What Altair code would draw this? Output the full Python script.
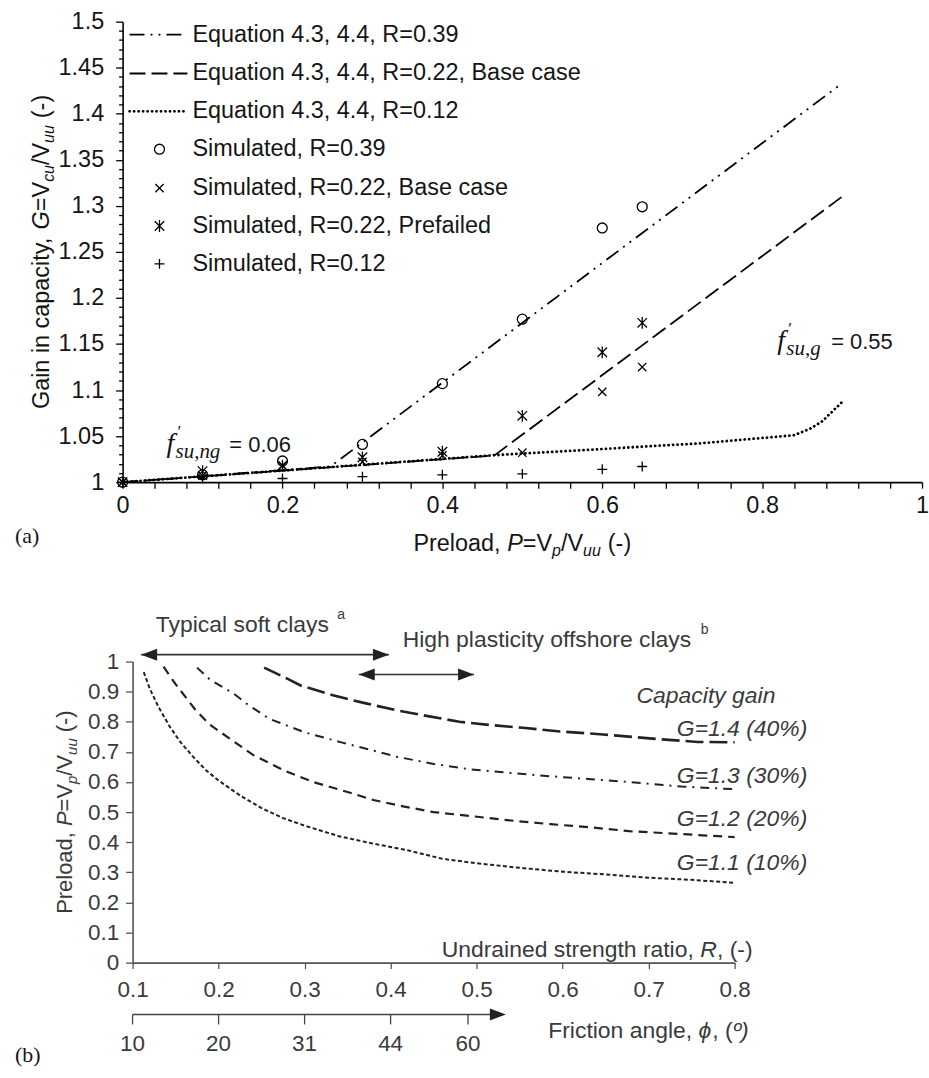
import altair as alt
import pandas as pd

SANS = "Liberation Sans"
SERIF = "Liberation Serif"
INK = "#151515"
INK_B = "#3a3a3a"

# ---------------- panel (a) data ----------------
P_sim = [0, 0.1, 0.2, 0.3, 0.4, 0.5, 0.6, 0.65]
G_sim_R039 = [1.0, 1.008, 1.023, 1.041, 1.107, 1.177, 1.276, 1.299]
G_sim_R022_base = [1.0, 1.007, 1.018, 1.022, 1.029, 1.032, 1.098, 1.125]
G_sim_R022_pref = [1.0, 1.012, 1.018, 1.027, 1.033, 1.072, 1.141, 1.173]
G_sim_R012 = [1.0, 1.004, 1.004, 1.006, 1.008, 1.009, 1.014, 1.017]

eq_R039_P = [0, 0.26, 0.9]
eq_R039_G = [1.0, 1.017, 1.433]
eq_R022_P = [0, 0.465, 0.9]
eq_R022_G = [1.0, 1.029, 1.310]
eq_R012_P = [0, 0.46, 0.6, 0.72, 0.8, 0.84, 0.86, 0.875, 0.9]
eq_R012_G = [1.0, 1.029, 1.036, 1.042, 1.048, 1.051, 1.058, 1.066, 1.087]

legend_labels = [
    "Equation 4.3, 4.4, R=0.39",
    "Equation 4.3, 4.4, R=0.22, Base case",
    "Equation 4.3, 4.4, R=0.12",
    "Simulated, R=0.39",
    "Simulated, R=0.22, Base case",
    "Simulated, R=0.22, Prefailed",
    "Simulated, R=0.12",
]
f_ng_P, f_ng_G = 0.055, 1.0325
f_g_P, f_g_G = 0.819, 1.145

# ---------------- panel (b) data ----------------
G11_R = [0.113, 0.12, 0.13, 0.143, 0.155, 0.17, 0.185, 0.2, 0.225, 0.25, 0.275, 0.3, 0.34, 0.38, 0.42, 0.46, 0.5, 0.55, 0.6, 0.65, 0.7, 0.75, 0.8]
G11_P = [0.965, 0.91, 0.85, 0.785, 0.735, 0.685, 0.64, 0.605, 0.555, 0.513, 0.48, 0.455, 0.42, 0.395, 0.373, 0.345, 0.33, 0.315, 0.302, 0.293, 0.282, 0.275, 0.265]
G12_R = [0.136, 0.15, 0.173, 0.19, 0.21, 0.24, 0.277, 0.31, 0.351, 0.38, 0.413, 0.45, 0.493, 0.54, 0.586, 0.63, 0.677, 0.738, 0.8]
G12_P = [0.983, 0.925, 0.84, 0.79, 0.75, 0.69, 0.637, 0.6, 0.566, 0.54, 0.52, 0.5, 0.487, 0.472, 0.46, 0.45, 0.437, 0.427, 0.417]
G13_R = [0.175, 0.19, 0.216, 0.235, 0.259, 0.3, 0.345, 0.407, 0.45, 0.493, 0.54, 0.586, 0.63, 0.677, 0.738, 0.8]
G13_P = [0.98, 0.94, 0.897, 0.855, 0.81, 0.765, 0.73, 0.684, 0.66, 0.642, 0.63, 0.619, 0.61, 0.6, 0.585, 0.576]
G14_R = [0.253, 0.275, 0.296, 0.333, 0.37, 0.407, 0.445, 0.48, 0.517, 0.554, 0.597, 0.647, 0.709, 0.757, 0.8]
G14_P = [0.98, 0.95, 0.92, 0.888, 0.862, 0.838, 0.818, 0.8, 0.789, 0.78, 0.768, 0.758, 0.743, 0.733, 0.732]
gain_labels = ["G=1.1 (10%)", "G=1.2 (20%)", "G=1.3 (30%)", "G=1.4 (40%)"]

soft_clay_R = [0.11, 0.398]
soft_clay_P = 1.023
offshore_R = [0.363, 0.497]
offshore_P = 0.957
friction_labels = ["10", "20", "31", "44", "60"]
friction_R = [0.1, 0.2, 0.3, 0.4, 0.49]
friction_arrow_R = [0.1, 0.534]

# ---------------- helpers ----------------
CW = {' ': .278, ',': .278, '.': .278, '(': .333, ')': .333, '-': .333, '/': .278,
      '=': .584, '%': .889, '\u2032': .25, '\u00ba': .365, '\u03d5': .6,
      'c': .5, 'f': .278, 'i': .222, 'j': .222, 'k': .5, 'l': .222, 'm': .833,
      'r': .333, 's': .5, 't': .278, 'v': .5, 'w': .722, 'x': .5, 'y': .5, 'z': .5,
      'G': .778, 'P': .667, 'V': .667, 'R': .722, 'U': .722, 'F': .611, 'T': .611,
      'H': .722, 'C': .722, 'E': .667}


def tw(s, size):
    return sum(CW.get(c, .556) for c in s) * size


def piece(t, size, style="normal", dy=0, font=SANS, adv=None, dx=0):
    return dict(t=t, size=size, style=style, dy=dy, font=font, adv=adv, dx=dx)


def rich(pieces, enc, data=None, align="left", angle=0, color=INK):
    advs = [(p["adv"] if p["adv"] is not None else tw(p["t"], p["size"])) + (p["dx"] if p["adv"] is None else 0)
            for p in pieces]
    total = sum(advs)
    off = {"left": 0, "center": -total / 2, "right": -total}[align]
    layers = []
    for p, a in zip(pieces, advs):
        row = dict(data or {})
        row["t"] = p["t"]
        layers.append(
            alt.Chart(pd.DataFrame([row])).mark_text(
                align="left", baseline="alphabetic", angle=angle,
                dx=off + p["dx"], dy=p["dy"], font=p["font"], fontSize=p["size"],
                fontStyle=p["style"], color=color,
            ).encode(text="t:N", **enc)
        )
        off += a
    return layers


# ---------------- panel (a) ----------------
SX_A = alt.Scale(domain=[0, 1], nice=False, zero=False)
SY_A = alt.Scale(domain=[1.0, 1.5], nice=False, zero=False)
MAJ_X = "abs(datum.value*5 - round(datum.value*5)) < 0.01"
MAJ_Y = "abs(datum.value*20 - round(datum.value*20)) < 0.01"

AX_XA = alt.Axis(
    values=[round(0.04 * i, 2) for i in range(26)],
    labelExpr=f"{MAJ_X} ? format(datum.value, '.1~f') : ''",
    tickSize=6, tickWidth=1.3, tickColor="black", domainColor="black", domainWidth=1.6,
    labelColor=INK, labelFont=SANS, labelFontSize=23.5, labelPadding=5,
    labelOverlap=False, labelFlush=False, labelBound=False, grid=False, title=None,
)
AX_YA = alt.Axis(
    values=[round(1 + 0.01 * i, 2) for i in range(51)],
    labelExpr=f"{MAJ_Y} ? format(datum.value, '.2~f') : ''",
    tickSize={"condition": {"test": MAJ_Y, "value": 7}, "value": 4},
    tickWidth=1.3, tickColor="black", domainColor="black", domainWidth=1.6,
    labelColor=INK, labelFont=SANS, labelFontSize=23.5, labelPadding=12,
    labelOverlap=False, labelFlush=False, labelBound=False, grid=False, title=None,
)


def XA():
    return alt.X("P:Q", scale=SX_A, axis=AX_XA)


def YA():
    return alt.Y("G:Q", scale=SY_A, axis=AX_YA)


def line_a(Ps, Gs, dash, width, cap="butt"):
    df = pd.DataFrame({"P": Ps, "G": Gs})
    return alt.Chart(df).mark_line(
        color="black", strokeDash=dash, strokeWidth=width, strokeCap=cap
    ).encode(x=XA(), y=YA())


SH_CIRCLE = "circle"
SH_CROSS = "M-1,-1L1,1M-1,1L1,-1"
SH_STAR = "M-1,-1L1,1M-1,1L1,-1M0,-1.25L0,1.25"
SH_PLUS = "M-1,0L1,0M0,-1L0,1"


def pts_a(Gs, shape, size):
    df = pd.DataFrame({"P": P_sim, "G": Gs})
    return alt.Chart(df).mark_point(
        shape=shape, size=size, filled=False, color="black", strokeWidth=1.3, opacity=1
    ).encode(x=XA(), y=YA())


DASH_39 = [15, 6, 2, 6, 2, 6]
DASH_22 = [16, 6]
DASH_12 = [0.1, 4.4]

layers_a = [
    line_a(eq_R012_P, eq_R012_G, DASH_12, 2.8, "round"),
    line_a(eq_R022_P, eq_R022_G, DASH_22, 1.8),
    line_a(eq_R039_P, eq_R039_G, DASH_39, 1.8),
    pts_a(G_sim_R039, SH_CIRCLE, 100),
    pts_a(G_sim_R022_base, SH_CROSS, 70),
    pts_a(G_sim_R022_pref, SH_STAR, 90),
    pts_a(G_sim_R012, SH_PLUS, 100),
]

# legend
LEG_Y = [13, 52, 90, 128, 167, 205, 243]
leg_styles = [
    ("line", DASH_39, 1.8, "butt"), ("line", DASH_22, 1.8, "butt"), ("line", DASH_12, 2.8, "round"),
    ("pt", SH_CIRCLE, 100), ("pt", SH_CROSS, 70), ("pt", SH_STAR, 90), ("pt", SH_PLUS, 100),
]
one = pd.DataFrame({"k": [0]})
for lab, yy, st in zip(legend_labels, LEG_Y, leg_styles):
    if st[0] == "line":
        layers_a.append(alt.Chart(one).mark_rule(
            color="black", strokeDash=st[1], strokeWidth=st[2], strokeCap=st[3]
        ).encode(x=alt.value(7), x2=alt.value(65), y=alt.value(yy)))
    else:
        layers_a.append(alt.Chart(one).mark_point(
            shape=st[1], size=st[2], filled=False, color="black", strokeWidth=1.3, opacity=1
        ).encode(x=alt.value(37), y=alt.value(yy)))
    layers_a.append(alt.Chart(pd.DataFrame({"t": [lab]})).mark_text(
        align="left", baseline="middle", font=SANS, fontSize=23.5, color=INK
    ).encode(x=alt.value(70), y=alt.value(yy), text="t:N"))

# annotations f'su
enc_a = {"x": XA(), "y": YA()}
layers_a += rich([
    piece("f", 28, "italic", font=SERIF, adv=9),
    piece("\u2032", 17, "normal", dy=-15, font=SERIF, adv=0, dx=2),
    piece("su,ng", 21, "italic", dy=6, font=SERIF, adv=54),
    piece("= 0.06", 22),
], enc_a, data={"P": f_ng_P, "G": f_ng_G})
layers_a += rich([
    piece("f", 28, "italic", font=SERIF, adv=9),
    piece("\u2032", 17, "normal", dy=-15, font=SERIF, adv=0, dx=2),
    piece("su,g", 21, "italic", dy=6, font=SERIF, adv=45),
    piece("= 0.55", 22),
], enc_a, data={"P": f_g_P, "G": f_g_G})

# axis titles (a)
layers_a += rich([
    piece("Gain in capacity, ", 23.5), piece("G", 23.5, "italic"), piece("=V", 23.5),
    piece("cu", 16, "italic", dy=5), piece("/V", 23.5), piece("uu", 16, "italic", dy=5),
    piece("(-)", 23.5, dx=7),
], {"x": alt.value(-74), "y": alt.value(231)}, align="center", angle=270)
layers_a += rich([
    piece("Preload, ", 23.5), piece("P", 23.5, "italic"), piece("=V", 23.5),
    piece("p", 16, "italic", dy=5), piece("/V", 23.5), piece("uu", 16, "italic", dy=5),
    piece("(-)", 23.5, dx=7),
], {"x": alt.value(401), "y": alt.value(531)}, align="center")
layers_a += rich([piece("(a)", 22, font=SERIF)],
                 {"x": alt.value(-108), "y": alt.value(523)})

top = alt.layer(*layers_a).properties(width=802, height=462)

# ---------------- panel (b) ----------------
SX_B = alt.Scale(domain=[0.1, 0.8], nice=False, zero=False)
SY_B = alt.Scale(domain=[0, 1], nice=False, zero=True)
AX_XB = alt.Axis(
    values=[round(0.1 * i, 1) for i in range(1, 9)], format=".1f",
    tickSize=6, tickWidth=1.3, tickColor="#555", domainColor="#555", domainWidth=1.6,
    labelColor=INK_B, labelFont=SANS, labelFontSize=22.5, labelPadding=10,
    labelOverlap=False, labelFlush=False, labelBound=False, grid=False, title=None,
)
AX_YB = alt.Axis(
    values=[round(0.1 * i, 1) for i in range(11)],
    labelExpr="format(datum.value, '.1~f')",
    tickSize=7, tickWidth=1.3, tickColor="#555", domainColor="#555", domainWidth=1.6,
    labelColor=INK_B, labelFont=SANS, labelFontSize=22.5, labelPadding=7,
    labelOverlap=False, labelFlush=False, labelBound=False, grid=False, title=None,
)


def XB(f="R"):
    return alt.X(f"{f}:Q", scale=SX_B, axis=AX_XB)


def YB():
    return alt.Y("Pb:Q", scale=SY_B, axis=AX_YB)


def line_b(Rs, Ps, dash, width):
    df = pd.DataFrame({"R": Rs, "Pb": Ps})
    return alt.Chart(df).mark_line(
        color="#222", strokeDash=dash, strokeWidth=width
    ).encode(x=XB(), y=YB())


curves_b = [(G11_R, G11_P), (G12_R, G12_P), (G13_R, G13_P), (G14_R, G14_P)]
dashes_b = [([4, 2.5], 2.0), ([9, 6], 2.2), ([9, 6, 2, 6], 2.0), ([18, 6], 2.6)]
label_dy = [-13, -11, -6, -6]

layers_b = []
for (Rs, Ps), (d, w) in zip(curves_b, dashes_b):
    layers_b.append(line_b(Rs, Ps, d, w))
for (Rs, Ps), lab, ddy in zip(curves_b, gain_labels, label_dy):
    layers_b.append(alt.Chart(pd.DataFrame({"R": [Rs[-1]], "Pb": [Ps[-1]], "t": [lab]})).mark_text(
        align="left", baseline="alphabetic", dx=-58, dy=ddy, font=SANS, fontSize=23,
        fontStyle="italic", color=INK_B
    ).encode(x=XB(), y=YB(), text="t:N"))

layers_b.append(alt.Chart(pd.DataFrame({"R": [0.686], "Pb": [0.864], "t": ["Capacity gain"]})).mark_text(
    align="left", baseline="alphabetic", font=SANS, fontSize=23, fontStyle="italic", color=INK_B
).encode(x=XB(), y=YB(), text="t:N"))

ARROW_R = "M0,0L-2,-0.75L-2,0.75Z"
ARROW_L = "M0,0L2,-0.75L2,0.75Z"


def double_arrow(Rs, Pv):
    df = pd.DataFrame({"R": [Rs[0]], "R2": [Rs[1]], "Pb": [Pv]})
    rule = alt.Chart(df).mark_rule(color="#333", strokeWidth=1.6).encode(
        x=XB(), x2="R2:Q", y=YB())
    heads = pd.DataFrame({"R": Rs, "Pb": [Pv, Pv]})
    hl = alt.Chart(heads.iloc[[0]]).mark_point(
        shape=ARROW_L, size=256, filled=True, color="#222", opacity=1, strokeWidth=0
    ).encode(x=XB(), y=YB())
    hr = alt.Chart(heads.iloc[[1]]).mark_point(
        shape=ARROW_R, size=256, filled=True, color="#222", opacity=1, strokeWidth=0
    ).encode(x=XB(), y=YB())
    return [rule, hl, hr]


layers_b += double_arrow(soft_clay_R, soft_clay_P)
layers_b += double_arrow(offshore_R, offshore_P)

enc_b = {"x": XB(), "y": YB()}
layers_b += rich([piece("Typical soft clays", 23), piece("a", 14, dy=-13, dx=7, adv=0)],
                 enc_b, data={"R": 0.127, "Pb": 1.099}, color=INK_B)
layers_b += rich([piece("High plasticity offshore clays", 23), piece("b", 14, dy=-13, dx=9, adv=0)],
                 enc_b, data={"R": 0.414, "Pb": 1.05}, color=INK_B)

# R axis caption inside plot
layers_b += rich([
    piece("Undrained strength ratio, ", 23), piece("R", 23, "italic"), piece(", (-)", 23),
], {"x": alt.value(622), "y": alt.value(296)}, align="right", color=INK_B)

# friction angle secondary scale
fr = pd.DataFrame({"R": [friction_arrow_R[0]], "R2": [friction_arrow_R[1] - 0.01]})
layers_b.append(alt.Chart(fr).mark_rule(color="#444", strokeWidth=1.4).encode(
    x=XB(), x2="R2:Q", y=alt.value(354)))
ft = pd.DataFrame({"R": friction_R, "t": friction_labels})
layers_b.append(alt.Chart(ft).mark_rule(color="#444", strokeWidth=1.3).encode(
    x=XB(), y=alt.value(354), y2=alt.value(364)))
layers_b.append(alt.Chart(ft).mark_text(
    baseline="middle", align="center", font=SANS, fontSize=22.5, color=INK_B
).encode(x=XB(), y=alt.value(384), text="t:N"))
layers_b.append(alt.Chart(pd.DataFrame({"R": [friction_arrow_R[1]]})).mark_point(
    shape=ARROW_R, size=256, filled=True, color="#222", opacity=1, strokeWidth=0
).encode(x=XB(), y=alt.value(354)))
layers_b += rich([
    piece("Friction angle, ", 23), piece("\u03d5", 23, "italic"), piece(", (", 23),
    piece("\u00ba", 23, "italic"), piece(")", 23, "italic"),
], {"x": alt.value(417), "y": alt.value(378)}, color=INK_B)

# axis title (b)
layers_b += rich([
    piece("Preload, ", 22), piece("P", 22, "italic"), piece("=V", 22),
    piece("p", 15, "italic", dy=5), piece("/V", 22), piece("uu", 15, "italic", dy=5),
    piece("(-)", 22, dx=6),
], {"x": alt.value(-61), "y": alt.value(151)}, align="center", angle=270, color=INK_B)
layers_b += rich([piece("(b)", 22, font=SERIF)],
                 {"x": alt.value(-118), "y": alt.value(402)})

bottom = alt.layer(*layers_b).properties(width=604, height=302)

spacer = alt.Chart(one).mark_point(opacity=0).encode(
    x=alt.value(0), y=alt.value(0)).properties(width=1, height=302)
bottom_row = alt.hconcat(spacer, bottom, spacing=9, bounds="flush")

chart = alt.vconcat(top, bottom_row, spacing=180, bounds="flush").properties(
    padding={"left": 15, "top": 8, "right": 0, "bottom": 0},
    background="white",
).configure_view(stroke=None)

chart.save("out.html", embed_options={"renderer": "svg", "actions": False})
